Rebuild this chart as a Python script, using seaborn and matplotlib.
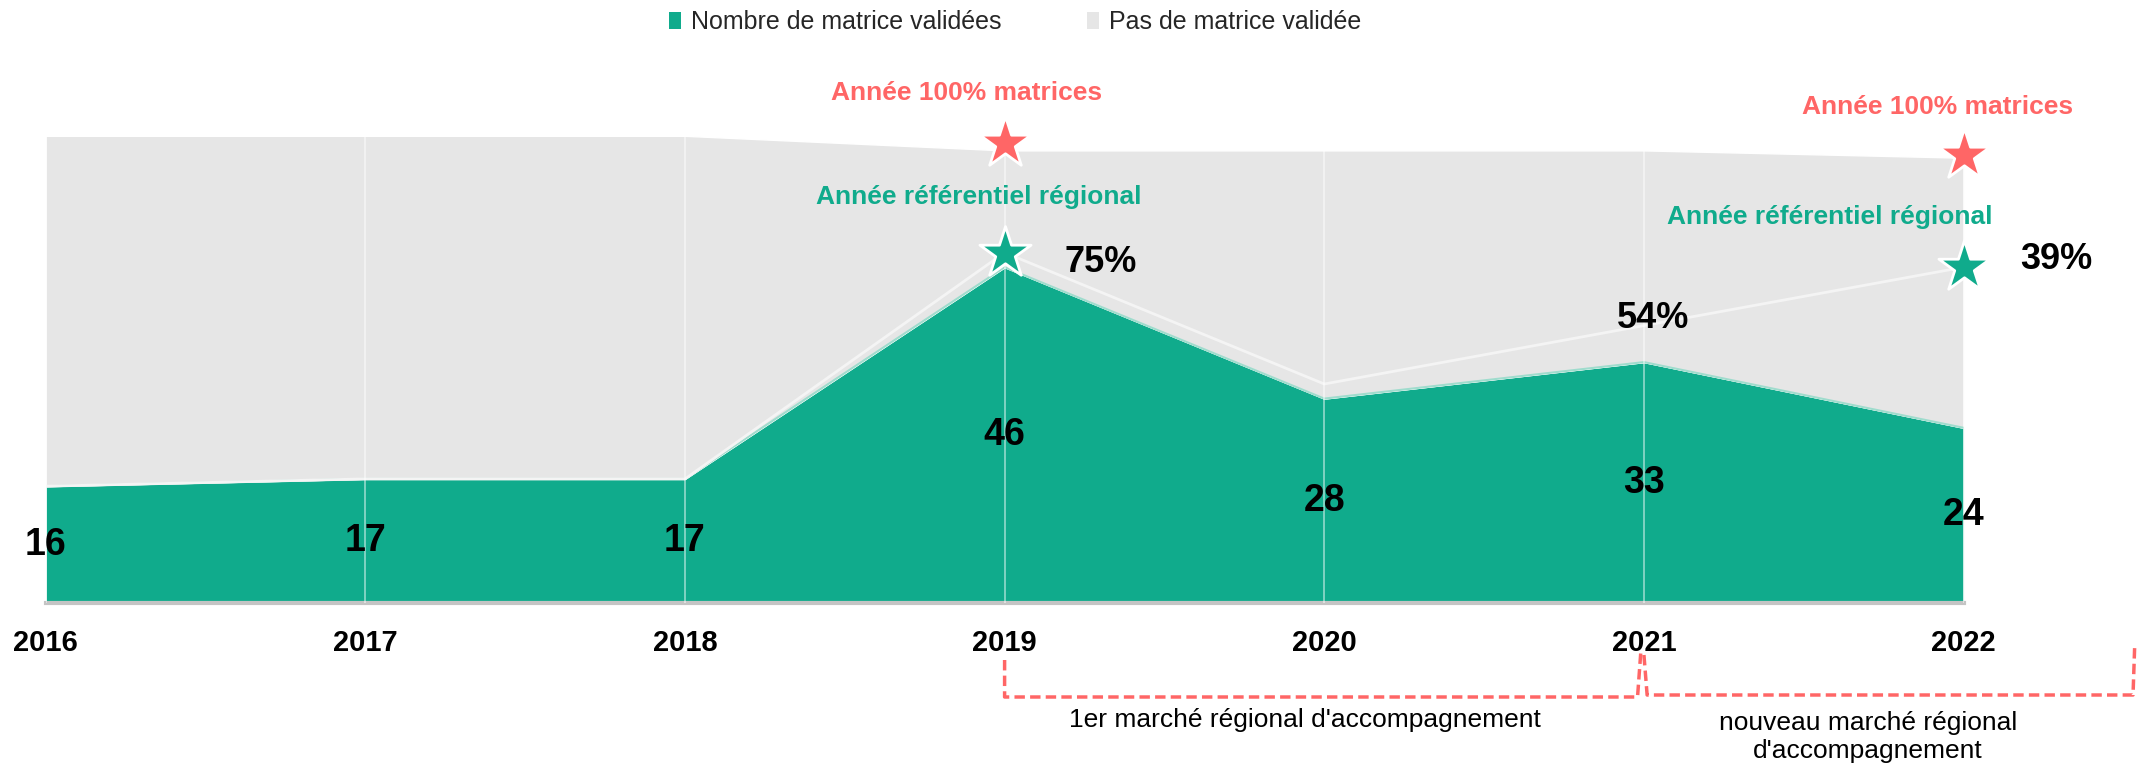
import matplotlib
matplotlib.use("Agg")
import matplotlib.pyplot as plt
import matplotlib.transforms as mtransforms
from matplotlib.patches import Patch
from matplotlib import font_manager
import seaborn as sns
import pandas as pd

# %% data
years = [2016, 2017, 2018, 2019, 2020, 2021, 2022]
validees = [16, 17, 17, 46, 28, 33, 24]
non_validees = [48, 47, 47, 16, 34, 29, 37]
ligne = [16, 17, 17, 48, 30, 38, 46]

pct_years = [2019.30, 2021.03, 2022.29]
pct_values = [46.6, 39.0, 47.0]
pct_labels = ["75%", "54%", "39%"]

star_years = [2019, 2022]
star_top = [63.0, 61.4]
star_ref = [48, 46]

legend_labels = ["Nombre de matrice validées", "Pas de matrice validée"]

df = pd.DataFrame({"annee": years, "validees": validees,
                   "non_validees": non_validees, "ligne": ligne})

# %% style
GREEN = "#10AB8C"
GREY = "#E6E6E6"
RED = "#FF6666"

sns.set_theme(style="white")
names = {f.name for f in font_manager.fontManager.ttflist}
NARROW = "Liberation Sans Narrow" if "Liberation Sans Narrow" in names else "Liberation Sans"
plt.rcParams["font.family"] = ["Liberation Sans", "DejaVu Sans"]

W, H = 2141, 767
fig = plt.figure(figsize=(W / 100, H / 100), dpi=100)
ax = fig.add_axes([45.6 / W, 1 - 603 / H, 1918 / W, 75 * 7.3 / H])

ax.stackplot(df["annee"], df["validees"], df["non_validees"], colors=[GREEN, GREY])
ax.plot(df["annee"], df["validees"], color="#9fdccd", lw=1.5, zorder=1.5)
sns.lineplot(data=df, x="annee", y="ligne", color="#f4f4f4", lw=2, ax=ax, zorder=2)

sns.scatterplot(x=star_years, y=star_top, marker="*", s=1500, color=RED,
                edgecolor="white", linewidth=2, ax=ax, zorder=5, clip_on=False)
sns.scatterplot(x=star_years, y=star_ref, marker="*", s=1500, color=GREEN,
                edgecolor="white", linewidth=2, ax=ax, zorder=5, clip_on=False)
if ax.get_legend() is not None:
    ax.get_legend().remove()

ax.set_xlim(2016, 2022)
ax.set_ylim(0, 75)
ax.set_xticks(years)
ax.set_xticklabels([str(y) for y in years], fontsize=21, fontweight="bold",
                   family=NARROW, color="black")
ax.set_yticks([])
ax.set_xlabel("")
ax.set_ylabel("")
ax.tick_params(axis="x", length=0, pad=19)
for s in ["top", "right", "left"]:
    ax.spines[s].set_visible(False)
ax.spines["bottom"].set_color("#c4c4c4")
ax.spines["bottom"].set_linewidth(3)
ax.grid(axis="x", color="white", alpha=0.55, lw=1.2)
ax.set_axisbelow(False)

# data labels
for x, v in zip(years, validees):
    ax.text(x, v / 2, str(v), ha="center", va="center", fontsize=27,
            fontweight="bold", family=NARROW, color="black", zorder=4)
for x, y, t in zip(pct_years, pct_values, pct_labels):
    ax.text(x, y, t, ha="center", va="center", fontsize=26,
            fontweight="bold", family=NARROW, color="black", zorder=4, clip_on=False)

# annotations
ax.text(2018.88, 69.9, "Année 100% matrices", ha="center", va="center", fontsize=19,
        fontweight="bold", family=NARROW, color=RED)
ax.text(2021.92, 67.9, "Année 100% matrices", ha="center", va="center", fontsize=19,
        fontweight="bold", family=NARROW, color=RED)
ax.text(2018.92, 55.6, "Année référentiel régional", ha="center", va="center", fontsize=19,
        fontweight="bold", family=NARROW, color=GREEN, zorder=4)
ax.text(2021.58, 52.9, "Année référentiel régional", ha="center", va="center", fontsize=19,
        fontweight="bold", family=NARROW, color=GREEN, zorder=4)

# brackets under the axis
tr = mtransforms.blended_transform_factory(ax.transData, fig.transFigure)
fy = lambda p: 1 - p / H
ax.plot([2019, 2019, 2020.98, 2020.99], [fy(660), fy(697), fy(697), fy(653)],
        transform=tr, color=RED, lw=2.5, ls=(0, (3, 1.5)), clip_on=False)
ax.plot([2021.0, 2021.01, 2022.53, 2022.535], [fy(655), fy(695), fy(695), fy(648)],
        transform=tr, color=RED, lw=2.5, ls=(0, (3, 1.5)), clip_on=False)
ax.text(2019.94, fy(720), "1er marché régional d'accompagnement", transform=tr,
        ha="center", va="center", fontsize=19, color="black")
ax.text(2021.70, fy(737), "nouveau marché régional\nd'accompagnement", transform=tr,
        ha="center", va="center", fontsize=19, color="black", linespacing=1.25)

# legend
handles = [Patch(facecolor=GREEN, edgecolor="none"), Patch(facecolor=GREY, edgecolor="none")]
fig.legend(handles, legend_labels,
           loc="center", bbox_to_anchor=(1015 / W, 1 - 22 / H), ncol=2, frameon=False,
           fontsize=18, handlelength=0.5, handleheight=0.7, handletextpad=0.4,
           columnspacing=3.4)

fig.savefig("out.png", dpi=100)
